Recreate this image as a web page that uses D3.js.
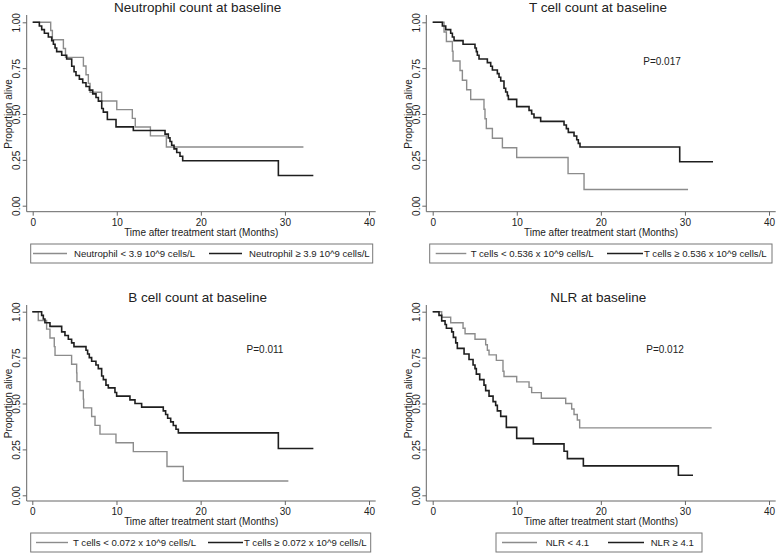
<!DOCTYPE html>
<html>
<head>
<meta charset="utf-8">
<script src="https://cdn.jsdelivr.net/npm/d3@7/dist/d3.min.js"></script>
<style>
  body { margin: 0; background: #fff; }
  text { font-family: "Liberation Sans", Arial, sans-serif; fill: #222; }
</style>
</head>
<body>
<svg id="chart" width="778" height="554"></svg>
<script>
// ---- data (time in months, proportion alive) ----
var xTicks = [0, 10, 20, 30, 40];
var yTicks = [0, 0.25, 0.5, 0.75, 1];
var yTickLabels = ["0.00", "0.25", "0.50", "0.75", "1.00"];

// Neutrophil count
var neutLowT = [0, 2.14, 2.34, 3.65, 3.9, 6.03, 6.34, 6.62, 6.82, 8.2, 10.0, 11.85, 12.2, 14.0, 15.9, 32.2];
var neutLowS = [1, 0.955, 0.905, 0.857, 0.809, 0.762, 0.714, 0.667, 0.619, 0.571, 0.524, 0.476, 0.429, 0.381, 0.32, 0.32];
var neutHighT = [0, 0.79, 1.07, 1.39, 1.86, 2.26, 2.46, 2.66, 2.85, 3.45, 4.04, 4.64, 4.92, 5.15, 5.55, 5.95, 6.34, 6.74, 7.14, 7.53, 7.81, 8.21, 8.4, 8.88, 9.91, 11.97, 15.74, 16.13, 16.33, 16.53, 16.81, 17.13, 17.52, 17.84, 29.22, 33.38];
var neutHighS = [1, 0.98, 0.96, 0.94, 0.92, 0.90, 0.88, 0.86, 0.84, 0.82, 0.80, 0.76, 0.73, 0.71, 0.69, 0.67, 0.65, 0.63, 0.61, 0.59, 0.57, 0.53, 0.51, 0.47, 0.43, 0.41, 0.39, 0.37, 0.35, 0.33, 0.31, 0.29, 0.27, 0.245, 0.165, 0.165];

// T cell count
var tLowT = [0, 1.35, 1.63, 2.34, 2.42, 3.25, 3.53, 4.04, 4.52, 6.1, 6.22, 6.38, 7.1, 8.29, 9.99, 16.1, 18.0, 30.37];
var tLowS = [1, 0.947, 0.895, 0.842, 0.789, 0.737, 0.684, 0.632, 0.579, 0.526, 0.474, 0.421, 0.368, 0.316, 0.263, 0.175, 0.088, 0.088];
var tHighT = [0, 1.15, 1.55, 2.14, 2.34, 2.54, 3.61, 5.03, 5.19, 5.31, 5.51, 6.5, 6.9, 7.1, 7.69, 7.89, 8.09, 8.48, 8.68, 8.88, 9.0, 9.99, 11.46, 11.77, 12.05, 12.84, 15.62, 15.9, 16.13, 16.81, 17.13, 17.32, 17.52, 29.38, 33.34];
var tHighS = [1, 0.98, 0.96, 0.94, 0.92, 0.90, 0.88, 0.86, 0.84, 0.82, 0.80, 0.78, 0.76, 0.74, 0.72, 0.70, 0.68, 0.64, 0.62, 0.60, 0.58, 0.54, 0.52, 0.50, 0.48, 0.46, 0.44, 0.42, 0.40, 0.38, 0.36, 0.34, 0.32, 0.24, 0.24];

// B cell count
var bLowT = [0, 0.71, 1.7, 2.1, 2.61, 2.7, 4.67, 5.27, 5.3, 5.66, 6.06, 6.1, 7.05, 7.45, 8.04, 9.94, 12.0, 16.0, 17.94, 30.42];
var bLowS = [1, 0.952, 0.905, 0.857, 0.81, 0.762, 0.714, 0.667, 0.619, 0.571, 0.524, 0.476, 0.429, 0.381, 0.333, 0.286, 0.238, 0.157, 0.078, 0.078];
var bHighT = [0, 1.11, 1.31, 1.5, 2.1, 3.49, 3.88, 4.28, 4.67, 4.95, 6.38, 6.57, 6.77, 7.05, 7.56, 7.84, 8.24, 8.44, 8.75, 9.03, 9.82, 10.02, 11.6, 12.2, 12.99, 15.56, 15.84, 16.08, 16.44, 16.75, 17.07, 17.35, 29.23, 33.39];
var bHighS = [1, 0.98, 0.96, 0.94, 0.92, 0.89, 0.87, 0.85, 0.83, 0.81, 0.79, 0.77, 0.75, 0.73, 0.71, 0.69, 0.65, 0.63, 0.60, 0.585, 0.56, 0.54, 0.52, 0.50, 0.48, 0.46, 0.44, 0.42, 0.40, 0.38, 0.36, 0.34, 0.255, 0.255];

// NLR
var nlrLowT = [0, 1.07, 2.14, 3.61, 3.85, 5.03, 6.3, 6.5, 6.7, 7.57, 8.36, 8.48, 9.99, 11.46, 11.77, 12.92, 15.82, 16.53, 16.81, 17.2, 17.48, 33.18];
var nlrLowS = [1, 0.97, 0.94, 0.91, 0.88, 0.85, 0.82, 0.79, 0.765, 0.735, 0.676, 0.647, 0.618, 0.588, 0.559, 0.529, 0.50, 0.47, 0.44, 0.41, 0.367, 0.367];
var nlrHighT = [0, 0.75, 1.07, 1.47, 1.63, 2.26, 2.46, 2.74, 2.93, 3.73, 4.32, 4.8, 5.03, 5.19, 5.59, 6.1, 6.3, 6.7, 7.18, 7.49, 7.69, 8.09, 8.76, 9.99, 11.97, 15.62, 16.02, 17.92, 29.22, 30.96];
var nlrHighS = [1, 0.98, 0.95, 0.93, 0.91, 0.89, 0.86, 0.83, 0.80, 0.77, 0.74, 0.71, 0.69, 0.66, 0.63, 0.60, 0.57, 0.54, 0.51, 0.49, 0.46, 0.43, 0.37, 0.31, 0.28, 0.24, 0.20, 0.16, 0.109, 0.109];

var titles = ["Neutrophil count at baseline", "T cell count at baseline", "B cell count at baseline", "NLR at baseline"];
var pValues = [null, "P=0.017", "P=0.011", "P=0.012"];
var lowLabels = ["Neutrophil < 3.9 10^9 cells/L", "T cells < 0.536 x 10^9 cells/L", "T cells < 0.072 x 10^9 cells/L", "NLR < 4.1"];
var highLabels = ["Neutrophil \u2265 3.9 10^9 cells/L", "T cells \u2265 0.536 x 10^9 cells/L", "T cells \u2265 0.072 x 10^9 cells/L", "NLR \u2265 4.1"];

var series = [
  [neutLowT, neutLowS, neutHighT, neutHighS],
  [tLowT, tLowS, tHighT, tHighS],
  [bLowT, bLowS, bHighT, bHighS],
  [nlrLowT, nlrLowS, nlrHighT, nlrHighS]
];

// ---- layout of each panel (pixels) ----
var layout = [
  { left: 26.7, x0: 32.7, x1: 369, top: 15, y1: 22.3, y0: 205.7, bottom: 211.7, right: 375.7,
    titleX: 197.7, titleY: 12, pX: 0, pY: 0,
    box: [30.7, 244, 342, 19], items: [[33, 67, 74], [209, 242, 249]] },
  { left: 426.3, x0: 432.7, x1: 769, top: 15, y1: 22.3, y0: 205.7, bottom: 211.7, right: 775.7,
    titleX: 598, titleY: 12, pX: 662, pY: 65,
    box: [429.7, 244, 342.3, 19], items: [[435.7, 466.3, 470.7], [607, 643, 644]] },
  { left: 26.7, x0: 32.3, x1: 369, top: 305, y1: 311.7, y0: 495.3, bottom: 501, right: 375.7,
    titleX: 197.7, titleY: 302, pX: 265, pY: 353,
    box: [30.7, 533, 340, 19], items: [[36, 68, 73], [208, 243, 244]] },
  { left: 426.3, x0: 432.7, x1: 769, top: 305, y1: 311.7, y0: 495.3, bottom: 501, right: 775.7,
    titleX: 598.3, titleY: 302, pX: 665, pY: 353,
    box: [496, 533, 206, 19], items: [[502, 537, 545.7], [608, 644, 650.7]] }
];

var svg = d3.select("#chart");
var axisColor = "#666";
var lowColor = "#8c8c8c";
var highColor = "#1e1e1e";

function drawPanel(i) {
  var L = layout[i];
  var s = series[i];
  var g = svg.append("g");

  var x = d3.scaleLinear().domain([0, 40]).range([L.x0, L.x1]);
  var y = d3.scaleLinear().domain([0, 1]).range([L.y0, L.y1]);

  // title
  g.append("text")
    .attr("x", L.titleX).attr("y", L.titleY)
    .attr("text-anchor", "middle")
    .style("font-size", "13.5px")
    .text(titles[i]);

  // x axis
  var xa = g.append("g")
    .attr("transform", "translate(0," + L.bottom + ")")
    .call(d3.axisBottom(x).tickValues(xTicks).tickSizeOuter(0).tickSize(4).tickPadding(3));
  xa.select(".domain").remove();
  xa.selectAll(".tick line").attr("stroke", axisColor);
  xa.selectAll(".tick text").style("font-size", "10px").attr("fill", "#222");
  g.append("line")
    .attr("x1", L.left).attr("x2", L.right)
    .attr("y1", L.bottom).attr("y2", L.bottom)
    .attr("stroke", axisColor).attr("stroke-width", 1);

  // y axis
  var ya = g.append("g")
    .attr("transform", "translate(" + L.left + ",0)")
    .call(d3.axisLeft(y).tickValues(yTicks).tickSizeOuter(0).tickSize(4)
      .tickFormat(function(d, k) { return yTickLabels[k]; }));
  ya.select(".domain").remove();
  ya.selectAll(".tick line").attr("stroke", axisColor);
  ya.selectAll(".tick text")
    .style("font-size", "10px").attr("fill", "#222")
    .attr("text-anchor", "middle")
    .attr("dy", null)
    .attr("x", null)
    .attr("transform", "translate(-6.5,0) rotate(-90)");
  g.append("line")
    .attr("x1", L.left).attr("x2", L.left)
    .attr("y1", L.top).attr("y2", L.bottom)
    .attr("stroke", axisColor).attr("stroke-width", 1);

  // axis titles
  g.append("text")
    .attr("transform", "translate(" + (L.left - 14.5) + "," + ((L.y0 + L.y1) / 2) + ") rotate(-90)")
    .attr("text-anchor", "middle")
    .style("font-size", "10px")
    .text("Proportion alive");
  g.append("text")
    .attr("x", (L.left + L.right) / 2).attr("y", L.bottom + 24.3)
    .attr("text-anchor", "middle")
    .style("font-size", "10px")
    .text("Time after treatment start (Months)");

  // survival curves
  var line = d3.line()
    .x(function(d) { return x(d[0]); })
    .y(function(d) { return y(d[1]); })
    .curve(d3.curveStepAfter);

  var low = d3.zip(s[0], s[1]);
  var high = d3.zip(s[2], s[3]);

  g.append("path").datum(low)
    .attr("d", line).attr("fill", "none")
    .attr("stroke", lowColor).attr("stroke-width", 1.4);
  g.append("path").datum(high)
    .attr("d", line).attr("fill", "none")
    .attr("stroke", highColor).attr("stroke-width", 1.6);

  // p value
  if (pValues[i]) {
    g.append("text")
      .attr("x", L.pX).attr("y", L.pY)
      .attr("text-anchor", "middle")
      .style("font-size", "10px")
      .text(pValues[i]);
  }

  // legend
  var b = L.box;
  g.append("rect")
    .attr("x", b[0]).attr("y", b[1]).attr("width", b[2]).attr("height", b[3])
    .attr("fill", "none").attr("stroke", "#777").attr("stroke-width", 1);
  var ly = b[1] + b[3] / 2;
  var cols = [lowColor, highColor];
  var labels = [lowLabels[i], highLabels[i]];
  L.items.forEach(function(it, k) {
    g.append("line")
      .attr("x1", it[0]).attr("x2", it[1]).attr("y1", ly).attr("y2", ly)
      .attr("stroke", cols[k]).attr("stroke-width", k ? 1.6 : 1.4);
    g.append("text")
      .attr("x", it[2]).attr("y", ly + 3.5)
      .style("font-size", "9.6px")
      .text(labels[k]);
  });
}

for (var i = 0; i < 4; i++) drawPanel(i);
</script>
</body>
</html>
